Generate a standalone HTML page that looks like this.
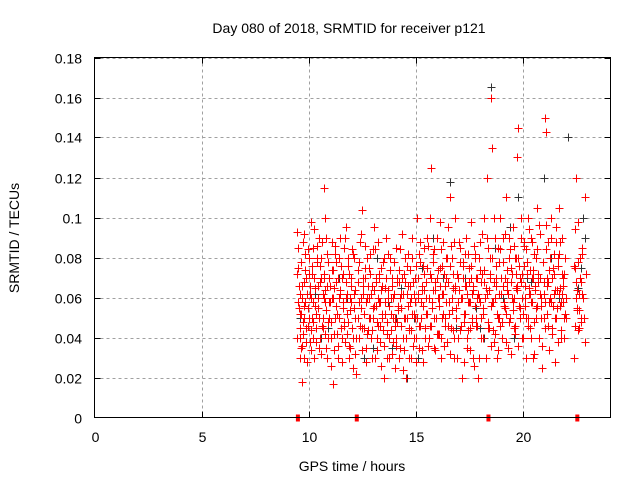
<!DOCTYPE html>
<html><head><meta charset="utf-8"><style>
body{margin:0;background:#fff;}
svg{display:block;font-family:"Liberation Sans",sans-serif;}
</style></head><body>
<svg id="chart" width="640" height="480">
<text x="349" y="33" font-size="14" text-anchor="middle" fill="#000">Day 080 of 2018, SRMTID for receiver p121</text>
<text x="352" y="471" font-size="14" text-anchor="middle">GPS time / hours</text>
<text transform="translate(19,238) rotate(-90)" font-size="14" font-weight="normal" text-anchor="middle">SRMTID / TECUs</text>
<g id="grid"></g>
<g id="ticks"></g>
<g id="black"></g>
<g id="red"></g>
<g id="gaps"></g>
<rect x="94.5" y="57.5" width="516" height="360" fill="none" stroke="#000" stroke-width="1"/>
</svg>
<script>
const xTicks=[0,5,10,15,20];
const yTicks=[0,0.02,0.04,0.06,0.08,0.1,0.12,0.14,0.16,0.18];
const yTickLabels=["0","0.02","0.04","0.06","0.08","0.1","0.12","0.14","0.16","0.18"];
const gapTimes=[9.5,12.25,18.4,22.55];
const redT=[9.45,9.5,9.55,9.6,9.62,9.65,9.7,9.72,9.78,9.8,9.85,9.9,9.95,10.0,10.05,10.1,10.12,10.18,10.2,10.25,10.3,10.35,10.4,10.45,10.5,10.55,10.6,10.65,10.7,10.72,10.78,10.8,10.85,10.9,10.95,11.0,11.05,11.1,11.15,11.2,11.25,11.3,11.35,11.4,11.45,11.5,11.55,11.6,11.65,11.7,11.75,11.8,11.85,11.9,11.95,12.0,12.05,12.1,12.15,12.2,12.3,12.35,12.4,12.45,12.5,12.55,12.6,12.65,12.7,12.75,12.8,12.85,12.9,12.95,13.0,13.05,13.1,13.15,13.2,13.25,13.3,13.35,13.4,13.45,13.5,13.55,13.6,13.65,13.7,13.75,13.8,13.85,13.9,13.95,14.0,14.05,14.1,14.15,14.2,14.25,14.3,14.35,14.4,14.45,14.5,14.55,14.6,14.65,14.7,14.75,14.8,14.85,14.9,14.95,15.0,15.05,15.1,15.15,15.2,15.25,15.3,15.35,15.4,15.45,15.5,15.55,15.6,15.65,15.7,15.75,15.8,15.85,15.9,15.95,16.0,16.05,16.1,16.15,16.2,16.25,16.3,16.35,16.4,16.45,16.5,16.55,16.6,16.65,16.7,16.75,16.8,16.85,16.9,16.95,17.0,17.05,17.1,17.15,17.2,17.25,17.3,17.35,17.4,17.45,17.5,17.55,17.6,17.65,17.7,17.75,17.8,17.85,17.9,17.95,18.0,18.05,18.1,18.15,18.2,18.3,18.35,18.4,18.45,18.5,18.55,18.6,18.65,18.7,18.75,18.8,18.85,18.9,18.95,19.0,19.05,19.1,19.15,19.2,19.25,19.3,19.35,19.4,19.45,19.5,19.55,19.6,19.65,19.7,19.75,19.8,19.85,19.9,19.95,20.0,20.05,20.1,20.15,20.2,20.25,20.3,20.35,20.4,20.45,20.5,20.55,20.6,20.65,20.7,20.75,20.8,20.85,20.9,20.95,21.0,21.05,21.1,21.15,21.2,21.25,21.3,21.35,21.4,21.45,21.5,21.55,21.6,21.65,21.7,21.75,21.8,21.85,21.9,21.95,22.0,22.4,22.45,22.5,22.55,22.6,22.65,22.7,22.75,22.8,22.85,22.9,22.92,22.95];
const redV=[.093,.075,.055,.04,.062,.035,.018,.048,.068,.03,.082,.045,.055,.072,.038,.098,.06,.05,.085,.03,.065,.045,.078,.055,.09,.04,.07,.05,.115,.06,.1,.035,.082,.048,.07,.058,.04,.088,.017,.065,.05,.078,.03,.06,.09,.045,.07,.055,.085,.038,.095,.062,.048,.072,.035,.058,.025,.08,.05,.022,.068,.04,.088,.055,.104,.062,.045,.075,.035,.06,.05,.082,.04,.066,.055,.095,.03,.07,.048,.088,.058,.038,.075,.05,.02,.065,.09,.042,.06,.03,.08,.052,.07,.038,.062,.025,.085,.048,.068,.035,.055,.092,.04,.072,.05,.02,.062,.082,.045,.058,.03,.09,.052,.07,.04,.1,.06,.035,.078,.05,.066,.028,.085,.045,.06,.075,.04,.1,.125,.055,.082,.035,.068,.05,.09,.06,.042,.075,.03,.062,.088,.05,.07,.038,.095,.058,.11,.045,.08,.065,.03,.1,.055,.072,.04,.085,.06,.02,.078,.048,.066,.09,.035,.058,.075,.045,.098,.062,.03,.082,.05,.07,.02,.06,.088,.04,.072,.055,.1,.065,.12,.045,.08,.16,.135,.058,.038,.09,.07,.03,.085,.05,.1,.062,.04,.078,.055,.11,.068,.035,.09,.05,.075,.06,.095,.045,.08,.065,.13,.145,.055,.1,.072,.04,.088,.06,.05,.078,.1,.065,.045,.09,.07,.03,.082,.055,.105,.068,.04,.092,.06,.025,.078,.05,.15,.143,.07,.088,.058,.1,.045,.075,.062,.028,.095,.055,.08,.105,.065,.04,.09,.058,.072,.05,.03,.075,.12,.055,.098,.045,.068,.085,.06,.05,.038,.11,.072];
const redV2=[.072,.058,.045,.078,.052,.066,.042,.088,.056,.074,.038,.062,.084,.05,.066,.044,.076,.058,.04,.07,.052,.086,.06,.035,.068,.08,.046,.062,.072,.042,.054,.09,.066,.04,.058,.048,.074,.06,.034,.082,.056,.042,.07,.05,.064,.076,.04,.058,.046,.068,.052,.08,.036,.06,.07,.045,.082,.055,.064,.04,.05,.078,.06,.045,.07,.052,.086,.058,.042,.066,.075,.05,.062,.044,.084,.056,.068,.04,.06,.072,.046,.064,.052,.078,.036,.058,.07,.048,.082,.056,.044,.066,.06,.078,.05,.04,.068,.056,.074,.06,.046,.07,.062,.034,.08,.05,.066,.044,.074,.06,.052,.068,.04,.058,.076,.05,.062,.082,.046,.064,.056,.072,.04,.068,.052,.086,.06,.046,.07,.058,.078,.05,.064,.042,.074,.056,.066,.084,.05,.062,.072,.046,.058,.08,.068,.052,.076,.06,.044,.088,.066,.05,.072,.058,.064,.078,.046,.06,.07,.052,.082,.062,.044,.068,.058,.076,.05,.066,.086,.056,.07,.046,.062,.08,.058,.068,.052,.074,.06,.09,.048,.064,.072,.056,.08,.044,.068,.06,.076,.05,.062,.084,.07,.048,.066,.058,.092,.052,.074,.062,.08,.05,.068,.058,.086,.046,.072,.064,.08,.056,.07,.09,.06,.052,.076,.066,.084,.05,.062,.074,.058,.088,.07,.048,.064,.08,.056,.072,.096,.062,.05,.078,.068,.058,.084,.066,.046,.074,.06,.09,.07,.056,.082,.064,.05,.076,.062,.088,.058,.072,.066,.05,.08,.06,.094,.068,.054,.078,.062,.07,.05,.082];
const redV3=[.04,.085,.066,.052,.03,.078,.06,.036,.05,.092,.058,.07,.028,.046,.08,.062,.034,.072,.048,.094,.056,.038,.08,.066,.05,.076,.032,.088,.045,.07,.058,.064,.03,.078,.05,.066,.026,.06,.074,.042,.086,.068,.052,.036,.08,.062,.028,.072,.048,.09,.06,.042,.076,.03,.054,.066,.084,.04,.062,.032,.074,.058,.046,.092,.034,.066,.052,.07,.028,.08,.044,.06,.072,.03,.05,.064,.084,.056,.034,.046,.07,.058,.026,.066,.044,.08,.052,.03,.064,.04,.074,.06,.032,.05,.078,.046,.036,.07,.054,.03,.084,.062,.024,.05,.068,.04,.076,.056,.03,.066,.044,.08,.036,.062,.05,.028,.07,.046,.088,.058,.034,.076,.064,.04,.052,.09,.036,.06,.072,.046,.064,.084,.034,.05,.07,.042,.06,.098,.04,.076,.052,.036,.066,.08,.046,.058,.032,.086,.054,.072,.04,.064,.05,.03,.07,.088,.044,.06,.076,.028,.052,.066,.04,.082,.058,.034,.07,.048,.064,.026,.08,.046,.06,.03,.074,.05,.092,.04,.068,.03,.062,.085,.045,.07,.036,.058,.1,.042,.066,.052,.034,.078,.046,.062,.04,.09,.056,.07,.038,.064,.048,.084,.032,.072,.054,.06,.042,.08,.066,.036,.076,.05,.068,.04,.086,.056,.03,.072,.046,.094,.062,.04,.058,.074,.032,.066,.05,.084,.04,.07,.056,.036,.078,.062,.045,.096,.052,.068,.034,.08,.058,.042,.072,.05,.088,.064,.038,.082,.056,.044,.062,.07,.04,.052,.076,.046,.06,.064,.044,.054,.08,.048,.062];
const blackT=[9.6,10.3,10.9,11.4,12.1,12.6,13.2,13.7,13.9,14.3,14.6,14.9,15.3,15.8,16.1,16.6,16.9,17.3,17.8,18.2,18.5,18.7,19.1,19.4,19.8,20.2,20.6,21.0,21.3,21.7,22.1,22.6,22.8,22.9,10.6,11.8,13.0,14.1,15.1,16.3,17.1,18.0,19.6,20.4,21.5,22.7];
const blackV=[.05,.062,.045,.07,.055,.03,.08,.058,.035,.065,.02,.05,.075,.09,.06,.118,.045,.07,.055,.04,.165,.085,.06,.095,.11,.07,.055,.12,.08,.06,.14,.065,.1,.09,.04,.06,.035,.05,.03,.07,.06,.045,.04,.068,.05,.075];
const X0=94.5,X1=610.5,Y0=417.5,Y1=57.5,XMAX=24.1,YMAX=0.18;
const sx=t=>X0+(X1-X0)*t/XMAX, sy=v=>Y0-(Y0-Y1)*v/YMAX;
const NS="http://www.w3.org/2000/svg";
function mk(tag,attrs,parent){const e=document.createElementNS(NS,tag);for(const k in attrs)e.setAttribute(k,attrs[k]);parent.appendChild(e);return e;}
const grid=document.getElementById('grid'),ticks=document.getElementById('ticks');
xTicks.forEach(t=>{const x=Math.round(sx(t))+0.5;
 if(t>0){const l=mk('line',{x1:x,x2:x,y1:Y1,y2:Y0,stroke:'#a0a0a0','stroke-dasharray':'3,3'},grid);
 
 
 mk('line',{x1:x,x2:x,y1:Y0,y2:Y0-6,stroke:'#000'},ticks);
 mk('line',{x1:x,x2:x,y1:Y1,y2:Y1+6,stroke:'#000'},ticks);}
 const tx=mk('text',{x:x,y:442,'font-size':14,'text-anchor':'middle'},ticks);tx.textContent=t;
 
 });
yTicks.forEach((v,i)=>{const y=Math.round(sy(v))+0.5;
 if(v>0){const l=mk('line',{x1:X0,x2:X1,y1:y,y2:y,stroke:'#a0a0a0','stroke-dasharray':'3,3'},grid);
 
 
 mk('line',{x1:X0,x2:X0+6,y1:y,y2:y,stroke:'#000'},ticks);
 mk('line',{x1:X1,x2:X1-6,y1:y,y2:y,stroke:'#000'},ticks);}
 const tx=mk('text',{x:82,y:y+5,'font-size':14,'text-anchor':'end'},ticks);tx.textContent=yTickLabels[i];
 
 });
function plus(g,t,v,c){const x=Math.round(sx(t))+0.5,y=Math.round(sy(v))+0.5;
 const p=mk('path',{d:`M${x-4},${y}H${x+4}M${x},${y-4}V${y+4}`,stroke:c,'stroke-width':1,fill:'none'},g);
 
 }
const bg=document.getElementById('black'),rg=document.getElementById('red');
blackT.forEach((t,i)=>plus(bg,t,blackV[i],'#333'));
[redV,redV2,redV3].forEach((vals,k)=>{
 const off=k===0?0:(k===1?0.025:-0.012);
 redT.forEach((t,i)=>{if(i<vals.length)plus(rg,t+off,vals[i],'#ff0000');});});
const gg=document.getElementById('gaps');
gapTimes.forEach(t=>{const r=mk('rect',{x:sx(t)-2,y:Y0-3,width:4,height:7,fill:'#ff0000'},gg);
 
 });
</script>
</body></html>
